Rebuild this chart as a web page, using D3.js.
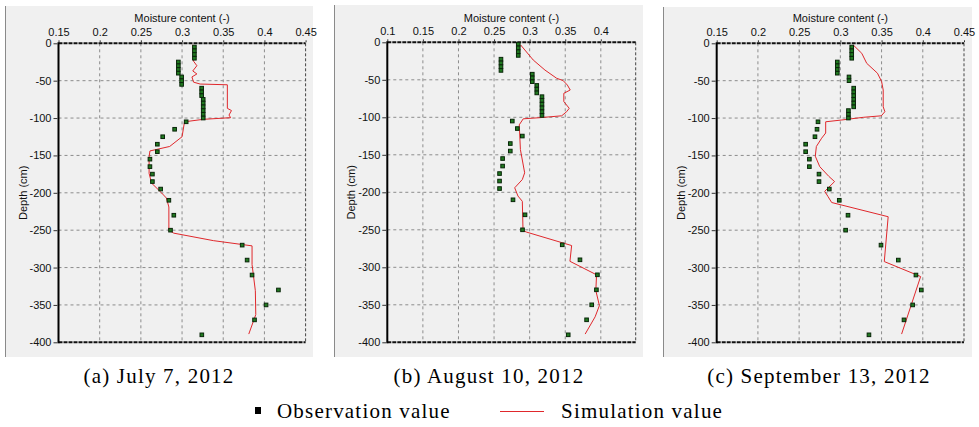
<!DOCTYPE html>
<html>
<head>
<meta charset="utf-8">
<script src="https://cdn.jsdelivr.net/npm/d3@7/dist/d3.min.js"></script>
<style>
  html,body{margin:0;padding:0;background:#fff;}
  svg{display:block;}
  .tick text{font-family:"Liberation Sans",Arial,sans-serif;font-size:11px;fill:#111;}
</style>
</head>
<body>
<svg id="chart" width="979" height="427"></svg>
<script>
// ---------- data ----------
const captions = ["(a) July 7, 2012", "(b) August 10, 2012", "(c) September 13, 2012"];
const legendLabels = ["Observation value", "Simulation value"];
const xAxisTitle = "Moisture content (-)";
const yAxisTitle = "Depth (cm)";
const depthTicks = [0, -50, -100, -150, -200, -250, -300, -350, -400];
const xTicksA = [0.15, 0.2, 0.25, 0.3, 0.35, 0.4, 0.45];
const xTicksB = [0.1, 0.15, 0.2, 0.25, 0.3, 0.35, 0.4];
const xTicksC = [0.15, 0.2, 0.25, 0.3, 0.35, 0.4, 0.45];

// (a) July 7, 2012
const obsDepthA = [-5,-10,-15,-20,-25,-30,-35,-40,-45,-50,-55,-60,-65,-70,-75,-80,-85,-90,-95,-100,
  -105,-115,-125,-135,-145,-155,-165,-175,-185,-195,-210,-230,-250,-270,-290,-310,-330,-350,-370,-390];
const obsThetaA = [0.315,0.315,0.315,0.315,0.2955,0.2955,0.2955,0.2955,0.2995,0.2995,0.2995,0.3238,0.3238,0.3238,
  0.3257,0.3257,0.3257,0.3257,0.3257,0.3257,
  0.305,0.291,0.2765,0.270,0.270,0.261,0.261,0.264,0.264,0.274,0.284,0.290,0.286,0.373,0.379,0.385,0.417,0.402,0.388,0.324];
const simDepthA = [-2,-24,-30,-37,-41,-45,-52,-54.5,-55.5,-87,-90,-96,-99.5,-101.7,-105,-125,-138,-144,-152,-174,
  -187,-200,-207,-219,-250,-254,-264,-271,-296,-331,-363,-389];
const simThetaA = [0.313,0.314,0.318,0.313,0.318,0.312,0.314,0.322,0.355,0.355,0.360,0.357,0.359,0.326,0.303,0.300,
  0.285,0.261,0.260,0.260,0.263,0.275,0.281,0.284,0.284,0.290,0.338,0.385,0.385,0.389,0.3895,0.381];

// (b) August 10, 2012
const obsDepthB = [-2.5,-7.5,-12.5,-17.5,-22.5,-27.5,-32.5,-37.5,-42.5,-47.5,-52.5,-57.5,-62.5,-67.5,
  -72.5,-77.5,-82.5,-87.5,-92.5,-97.5,
  -105,-115,-125,-135,-145,-155,-165,-175,-185,-195,-210,-230,-250,-270,-290,-310,-330,-350,-370,-390];
const obsThetaB = [0.284,0.284,0.284,0.284,0.2597,0.2597,0.2597,0.2597,0.3037,0.3037,0.3037,0.310,0.310,0.310,
  0.3173,0.3173,0.3173,0.3173,0.3173,0.3173,
  0.2756,0.2827,0.2897,0.2728,0.2728,0.262,0.262,0.2577,0.2577,0.2577,0.2766,0.2935,0.290,0.3458,0.3707,0.3952,0.3938,0.3872,0.380,0.3542];
const simDepthB = [-3.6,-23.6,-37,-48,-51,-57,-63.6,-68,-79,-88,-92.5,-98,-100.5,-102,-110,-143,-174,-183,-194,-205,
  -212,-251,-253,-271,-292,-310,-331,-351,-366,-389];
const simThetaB = [0.2874,0.305,0.3215,0.338,0.347,0.353,0.357,0.348,0.348,0.3556,0.352,0.345,0.3145,0.291,0.2854,0.287,
  0.293,0.2897,0.279,0.2836,0.2897,0.2907,0.2954,0.359,0.3566,0.394,0.393,0.398,0.392,0.378];

// (c) September 13, 2012
const obsDepthC = [-5,-10,-15,-20,-25,-30,-35,-40,-45,-50,-60,-65,-70,-75,-80,-85,-90,-95,-100,
  -105,-115,-125,-135,-145,-155,-165,-175,-185,-195,-210,-230,-250,-270,-290,-310,-330,-350,-370,-390];
const obsThetaC = [0.3138,0.3138,0.3138,0.3138,0.2963,0.2963,0.2963,0.2963,0.3105,0.3105,
  0.3162,0.3162,0.3162,0.3162,0.3162,0.3162,0.3098,0.3098,0.3098,
  0.2729,0.2717,0.2692,0.2579,0.2579,0.2624,0.2624,0.2741,0.2741,0.2866,0.2987,0.3093,0.3064,0.3493,0.3703,0.3917,0.3982,0.3877,0.3772,0.3347];
const simDepthC = [-2.3,-13.4,-26.8,-40,-51,-62.5,-85,-91.5,-97,-99,-102.6,-105,-120,-127,-138,-151,-165,-178,-185,-198,
  -205,-213,-232,-292,-312,-350,-389];
const simThetaC = [0.3157,0.326,0.332,0.345,0.350,0.352,0.352,0.354,0.3497,0.328,0.3017,0.2822,0.2822,0.2773,0.2709,0.2696,
  0.275,0.286,0.293,0.281,0.285,0.2895,0.358,0.3533,0.3974,0.386,0.3743];

// ---------- layout ----------
const panels = [
  {bg:[5,6,313,357],  plot:[58.5,43.3,305.6,342.3], xdom:[0.15,0.45], xt:xTicksA, od:obsDepthA, ot:obsThetaA, sd:simDepthA, st:simThetaA, cx:159},
  {bg:[334,5,643,357], plot:[387.3,42.3,635.7,342.3], xdom:[0.1,0.449], xt:xTicksB, od:obsDepthB, ot:obsThetaB, sd:simDepthB, st:simThetaB, cx:489},
  {bg:[663,7,972,357], plot:[716.7,43.3,964,342.3], xdom:[0.15,0.45], xt:xTicksC, od:obsDepthC, ot:obsThetaC, sd:simDepthC, st:simThetaC, cx:819}
];

const svg = d3.select("#chart");
const sans = '"Liberation Sans",Arial,sans-serif';
const serif = '"Liberation Serif","Times New Roman",serif';

panels.forEach((p, i) => {
  const g = svg.append("g");
  const [bx0,by0,bx1,by1] = p.bg;
  g.append("rect").attr("x",bx0).attr("y",by0).attr("width",bx1-bx0).attr("height",by1-by0).attr("fill","#f0f0f0");
  g.append("line").attr("x1",bx0+0.5).attr("x2",bx0+0.5).attr("y1",by0).attr("y2",by1).attr("stroke","#8a8a8a").attr("stroke-width",1);

  const [px0,py0,px1,py1] = p.plot;
  const x = d3.scaleLinear().domain(p.xdom).range([px0,px1]);
  const y = d3.scaleLinear().domain([0,-400]).range([py0,py1]);

  // grid
  g.append("g").selectAll("line.vg").data(p.xt.filter(v => x(v) > px0+1 && x(v) < px1-1)).join("line")
    .attr("x1",d=>x(d)).attr("x2",d=>x(d)).attr("y1",py0).attr("y2",py1)
    .attr("stroke","#8c8c8c").attr("stroke-width",1).attr("stroke-dasharray","3,3");
  g.append("g").selectAll("line.hg").data(depthTicks.filter(v => v < 0 && v > -400)).join("line")
    .attr("x1",px0).attr("x2",px1).attr("y1",d=>y(d)).attr("y2",d=>y(d))
    .attr("stroke","#8c8c8c").attr("stroke-width",1).attr("stroke-dasharray","3,3");

  // borders
  g.append("line").attr("x1",px1).attr("x2",px1).attr("y1",py0).attr("y2",py1)
    .attr("stroke","#444").attr("stroke-width",1).attr("stroke-dasharray","3,2");
  g.append("line").attr("x1",px0).attr("x2",px1).attr("y1",py0).attr("y2",py0)
    .attr("stroke","#111").attr("stroke-width",2).attr("stroke-dasharray","4,1");
  g.append("line").attr("x1",px0).attr("x2",px1).attr("y1",py1).attr("y2",py1)
    .attr("stroke","#111").attr("stroke-width",2).attr("stroke-dasharray","4,1");
  g.append("line").attr("x1",px0).attr("x2",px0).attr("y1",py0-1).attr("y2",py1+1)
    .attr("stroke","#000").attr("stroke-width",2);

  // axes
  const ya = g.append("g").attr("transform",`translate(${px0-1},0)`)
    .call(d3.axisLeft(y).tickValues(depthTicks).tickSize(4).tickPadding(2).tickFormat(d => String(d)));
  ya.select(".domain").remove();
  ya.selectAll(".tick line").attr("stroke","#333");
  const xa = g.append("g").attr("transform",`translate(0,${py0-1})`)
    .call(d3.axisTop(x).tickValues(p.xt).tickSize(2).tickPadding(4).tickFormat(d => String(d)));
  xa.select(".domain").remove();
  xa.selectAll(".tick line").attr("stroke","#333");

  // titles
  g.append("text").attr("x",(px0+px1)/2).attr("y",21.5).attr("text-anchor","middle")
    .attr("font-family",sans).attr("font-size",11).attr("fill","#111").text(xAxisTitle);
  g.append("text").attr("transform",`translate(${px0-36},${(py0+py1)/2}) rotate(-90)`)
    .attr("text-anchor","middle").attr("dominant-baseline","central")
    .attr("font-family",sans).attr("font-size",11).attr("fill","#111").text(yAxisTitle);

  // simulation line
  const sim = p.sd.map((d,k) => ({d, t:p.st[k]}));
  g.append("path").datum(sim)
    .attr("d", d3.line().x(v => x(v.t)).y(v => y(v.d)))
    .attr("fill","none").attr("stroke","#e0282c").attr("stroke-width",1);

  // observations
  const obs = p.od.map((d,k) => ({d, t:p.ot[k]}));
  const s = 3.6;
  g.append("g").selectAll("rect").data(obs).join("rect")
    .attr("x", v => x(v.t)-s/2).attr("y", v => y(v.d)-s/2).attr("width",s).attr("height",s)
    .attr("fill","#1f7a1f").attr("stroke","#0a260a").attr("stroke-width",1);

  // caption
  svg.append("text").attr("x",p.cx).attr("y",383).attr("text-anchor","middle")
    .attr("font-family",serif).attr("font-size",21).attr("letter-spacing","1.2px").attr("fill","#000")
    .text(captions[i]);
});

// legend
const lg = svg.append("g");
lg.append("rect").attr("x",255).attr("y",407).attr("width",6).attr("height",7).attr("fill","#000");
lg.append("text").attr("x",277).attr("y",418).attr("font-family",serif).attr("font-size",21)
  .attr("letter-spacing","1.2px").attr("fill","#000").text(legendLabels[0]);
lg.append("line").attr("x1",500).attr("x2",544).attr("y1",411.5).attr("y2",411.5).attr("stroke","#e0282c").attr("stroke-width",1);
lg.append("text").attr("x",561).attr("y",418).attr("font-family",serif).attr("font-size",21)
  .attr("letter-spacing","1.2px").attr("fill","#000").text(legendLabels[1]);
</script>
</body>
</html>
